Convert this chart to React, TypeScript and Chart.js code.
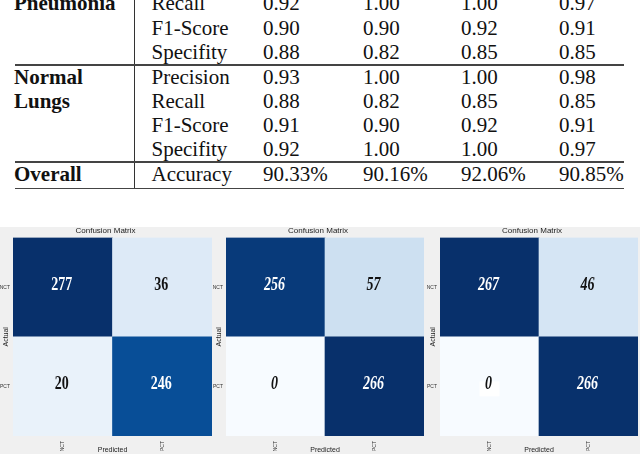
import React, { useEffect, useRef } from 'react';
import { Chart, registerables } from 'chart.js';

Chart.register(...registerables);

// ---------- Table data ----------
const groupLabels = ['Pneumonia', '', '', 'Normal', 'Lungs', '', '', 'Overall'];
const metricLabels = ['Recall', 'F1-Score', 'Specifity', 'Precision', 'Recall', 'F1-Score', 'Specifity', 'Accuracy'];
const model1Scores = ['0.92', '0.90', '0.88', '0.93', '0.88', '0.91', '0.92', '90.33%'];
const model2Scores = ['1.00', '0.90', '0.82', '1.00', '0.82', '0.90', '1.00', '90.16%'];
const model3Scores = ['1.00', '0.92', '0.85', '1.00', '0.85', '0.92', '1.00', '92.06%'];
const model4Scores = ['0.97', '0.91', '0.85', '0.98', '0.85', '0.91', '0.97', '90.85%'];

// ---------- Confusion matrix data ----------
const classLabels = ['NCT', 'PCT'];
const matrixA = [[277, 36], [20, 246]];
const matrixB = [[256, 57], [0, 266]];
const matrixC = [[267, 46], [0, 266]];
const chartTitle = 'Confusion Matrix';
const xAxisTitle = 'Predicted';
const yAxisTitle = 'Actual';

// ---------- Layout / style ----------
const rowCenters = [2.5, 27.5, 51.5, 76.5, 100.5, 124.5, 149, 174];
const valueColumnsX = [263, 363, 461, 559];
const SERIF = '"Liberation Serif", "Times New Roman", serif';
const SANS = '"Liberation Sans", Arial, sans-serif';

const BLUES = ['#f7fbff', '#deebf7', '#c6dbef', '#9ecae1', '#6baed6', '#4292c6', '#2171b5', '#08519c', '#08306b'];
function hexToRgb(h: string) {
  return [parseInt(h.slice(1, 3), 16), parseInt(h.slice(3, 5), 16), parseInt(h.slice(5, 7), 16)];
}
function blues(t: number) {
  const tt = Math.max(0, Math.min(1, t)) * (BLUES.length - 1);
  const i = Math.min(Math.floor(tt), BLUES.length - 2);
  const f = tt - i;
  const a = hexToRgb(BLUES[i]);
  const b = hexToRgb(BLUES[i + 1]);
  const c = a.map((v, k) => Math.round(v + (b[k] - v) * f));
  return `rgb(${c[0]},${c[1]},${c[2]})`;
}

type PanelProps = {
  matrix: number[][];
  italic: boolean;
  heatLeft: number;
  heatRight: number;
  boxedCells?: number[][];
};

function MatrixPanel({ matrix, italic, heatLeft, heatRight, boxedCells = [] }: PanelProps) {
  const ref = useRef<HTMLCanvasElement | null>(null);
  const Y_AXIS_W = 14;
  const canvasLeft = heatLeft - Y_AXIS_W;
  const width = heatRight - canvasLeft + 2;
  const top = 222;
  const height = 232;

  useEffect(() => {
    if (!ref.current) return;
    const max = Math.max(...matrix.flat());
    const n = classLabels.length;
    // bottom dataset first (last actual class at bottom)
    const datasets = [];
    for (let r = n - 1; r >= 0; r--) {
      datasets.push({
        label: classLabels[r],
        rowIndex: r,
        data: classLabels.map(() => 1),
        backgroundColor: matrix[r].map((v) => blues(v / max)),
        borderWidth: 0,
        barPercentage: 1,
        categoryPercentage: 1,
      } as any);
    }

    const cellText = {
      id: 'cellText',
      afterDatasetsDraw(chart: any) {
        const ctx = chart.ctx;
        chart.data.datasets.forEach((ds: any, d: number) => {
          const meta = chart.getDatasetMeta(d);
          const r = ds.rowIndex;
          meta.data.forEach((el: any, c: number) => {
            const v = matrix[r][c];
            const p = el.getProps(['x', 'y', 'base'], true);
            const cx = p.x;
            const cy = (p.y + p.base) / 2;
            ctx.save();
            if (boxedCells.some((b) => b[0] === r && b[1] === c)) {
              ctx.fillStyle = '#ffffff';
              ctx.fillRect(cx - 10, cy - 5, 20, 15);
            }
            ctx.translate(cx - 1, cy - 2);
            ctx.scale(1, 1.3);
            ctx.font = `${italic ? 'italic ' : ''}bold 14px ${SERIF}`;
            ctx.textAlign = 'center';
            ctx.textBaseline = 'middle';
            ctx.fillStyle = v / max > 0.5 ? '#ffffff' : '#111111';
            ctx.fillText(String(v), 0, 0);
            ctx.restore();
          });
        });
      },
    };

    const chart = new Chart(ref.current, {
      type: 'bar',
      data: { labels: classLabels, datasets },
      options: {
        responsive: false,
        maintainAspectRatio: false,
        animation: false,
        layout: { padding: { top: 0, right: 2, bottom: 0, left: 0 } },
        plugins: {
          legend: { display: false },
          tooltip: { enabled: false },
          title: {
            display: true,
            text: chartTitle,
            color: '#222',
            font: { family: SANS, size: 8, weight: 'normal' },
            padding: { top: 4, bottom: 2 },
          },
        },
        scales: {
          x: {
            type: 'category',
            stacked: true,
            grid: { display: false, drawTicks: false },
            border: { display: false },
            ticks: {
              minRotation: 90,
              maxRotation: 90,
              padding: 5,
              color: '#333',
              font: { family: SANS, size: 5 },
            },
            title: {
              display: true,
              text: xAxisTitle,
              color: '#222',
              font: { family: SANS, size: 7 },
              padding: { top: 0, bottom: 0 },
            },
            afterFit: (s: any) => {
              s.height = 18;
            },
          },
          y: {
            type: 'linear',
            stacked: true,
            min: 0,
            max: n,
            grid: { display: false, drawTicks: false },
            border: { display: false },
            afterBuildTicks: (s: any) => {
              s.ticks = classLabels.map((_, i) => ({ value: n - i - 0.5 }));
            },
            ticks: {
              padding: 3,
              color: '#333',
              font: { family: SANS, size: 5 },
              callback: (v: any) => classLabels[Math.floor(n - Number(v))],
            },
            title: {
              display: true,
              text: yAxisTitle,
              color: '#222',
              font: { family: SANS, size: 7 },
              padding: { top: 3, bottom: 0 },
            },
            afterFit: (s: any) => {
              s.width = Y_AXIS_W;
            },
          },
        },
      } as any,
      plugins: [cellText],
    });
    return () => chart.destroy();
  }, []);

  return (
    <canvas
      ref={ref}
      width={width}
      height={height}
      style={{ position: 'absolute', left: canvasLeft, top, width, height }}
    />
  );
}

function TableText({ x, y, text, bold }: { x: number; y: number; text: string; bold?: boolean }) {
  return (
    <div
      style={{
        position: 'absolute',
        left: x,
        top: y - 12,
        height: 24,
        lineHeight: '24px',
        fontFamily: SERIF,
        fontSize: 21,
        fontWeight: bold ? 'bold' : 'normal',
        color: '#111',
        whiteSpace: 'nowrap',
      }}
    >
      {text}
    </div>
  );
}

export default function App() {
  const scoreCols = [model1Scores, model2Scores, model3Scores, model4Scores];
  return (
    <div
      style={{
        position: 'absolute',
        left: 0,
        top: 0,
        width: 640,
        height: 454,
        overflow: 'hidden',
        background: '#ffffff',
      }}
    >
      {/* table */}
      {metricLabels.map((m, i) => (
        <React.Fragment key={i}>
          {groupLabels[i] && <TableText x={14} y={rowCenters[i]} text={groupLabels[i]} bold />}
          <TableText x={151.5} y={rowCenters[i]} text={m} />
          {scoreCols.map((col, j) => (
            <TableText key={j} x={valueColumnsX[j]} y={rowCenters[i]} text={col[i]} />
          ))}
        </React.Fragment>
      ))}
      <div style={{ position: 'absolute', left: 133.5, top: 0, width: 1.5, height: 188, background: '#333' }} />
      <div style={{ position: 'absolute', left: 15, top: 64, width: 609, height: 1.5, background: '#444' }} />
      <div style={{ position: 'absolute', left: 15, top: 161, width: 609, height: 1.5, background: '#444' }} />
      <div style={{ position: 'absolute', left: 15, top: 187.5, width: 609, height: 1.5, background: '#444' }} />

      {/* confusion matrices */}
      <div style={{ position: 'absolute', left: 0, top: 227, width: 640, height: 227, background: '#f0f0f0' }} />
      <MatrixPanel matrix={matrixA} italic={false} heatLeft={13} heatRight={212} />
      <MatrixPanel matrix={matrixB} italic={true} heatLeft={226} heatRight={424} />
      <MatrixPanel matrix={matrixC} italic={true} heatLeft={440} heatRight={638} boxedCells={[[1, 0]]} />
    </div>
  );
}
